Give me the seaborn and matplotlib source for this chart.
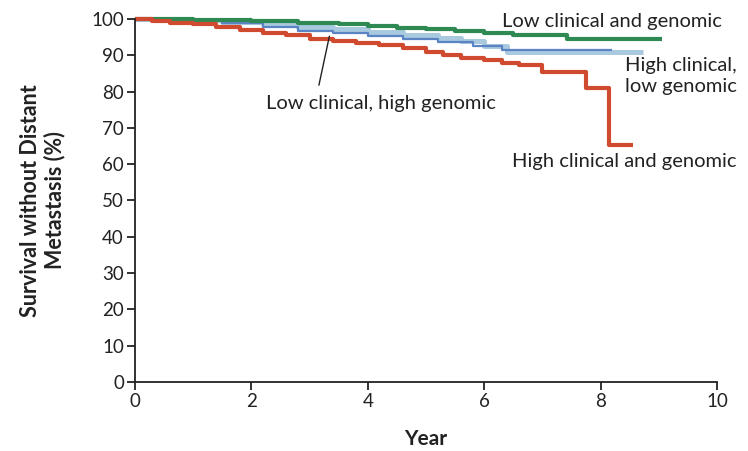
import matplotlib
matplotlib.use("Agg")
import matplotlib.pyplot as plt
import pandas as pd
import seaborn as sns

# Kaplan-Meier style step curves (year, % survival without distant metastasis)
low_low_years = [0, 1.0, 2.0, 2.8, 3.5, 4.0, 4.5, 5.0, 5.5, 6.0, 6.5, 7.42, 9.05]
low_low_surv = [100, 99.8, 99.5, 99.0, 98.6, 98.1, 97.6, 97.1, 96.6, 96.0, 95.6, 94.6, 94.6]

high_low_years = [0, 0.8, 1.5, 2.2, 2.8, 3.4, 4.0, 4.6, 5.2, 5.6, 6.0, 6.4, 8.73]
high_low_surv = [100, 99.7, 99.2, 98.6, 97.8, 97.2, 96.4, 95.6, 94.8, 93.8, 92.6, 91.0, 91.0]

low_high_years = [0, 0.8, 1.5, 2.2, 2.8, 3.4, 4.0, 4.6, 5.2, 5.8, 6.3, 8.2]
low_high_surv = [100, 99.6, 98.8, 97.8, 96.8, 96.0, 95.2, 94.5, 93.7, 92.5, 91.5, 91.5]

high_high_years = [0, 0.3, 0.6, 1.0, 1.4, 1.8, 2.2, 2.6, 3.0, 3.4, 3.8, 4.2, 4.6,
                   5.0, 5.3, 5.6, 6.0, 6.3, 6.6, 7.0, 7.75, 8.15, 8.55]
high_high_surv = [100, 99.5, 99.0, 98.5, 97.8, 97.0, 96.2, 95.5, 94.6, 94.0, 93.3, 92.8, 92.0,
                  91.0, 90.0, 89.3, 88.8, 88.0, 87.2, 85.5, 81.0, 65.3, 65.3]

x_ticks = [0, 2, 4, 6, 8, 10]
y_ticks = list(range(0, 101, 10))

groups = {
    "High clinical, low genomic": (high_low_years, high_low_surv),
    "Low clinical, high genomic": (low_high_years, low_high_surv),
    "Low clinical and genomic": (low_low_years, low_low_surv),
    "High clinical and genomic": (high_high_years, high_high_surv),
}
frame = pd.concat(
    [pd.DataFrame({"Year": yrs, "Survival": sv, "Group": name})
     for name, (yrs, sv) in groups.items()],
    ignore_index=True,
)

palette = {
    "High clinical, low genomic": "#a9c9de",
    "Low clinical, high genomic": "#5b84c4",
    "Low clinical and genomic": "#2e8a52",
    "High clinical and genomic": "#d04a30",
}
widths = {
    "High clinical, low genomic": 3.6,
    "Low clinical, high genomic": 1.6,
    "Low clinical and genomic": 3.0,
    "High clinical and genomic": 3.0,
}

sns.set_theme(style="ticks")
plt.rcParams["font.family"] = ["Lato", "DejaVu Sans"]

fig = plt.figure(figsize=(7.48, 4.51), dpi=100)
ax = fig.add_axes([0.1805, 0.153, 0.778, 0.805])

for name in groups:
    sns.lineplot(data=frame[frame["Group"] == name], x="Year", y="Survival",
                 color=palette[name], linewidth=widths[name],
                 drawstyle="steps-post", ax=ax, clip_on=False,
                 solid_capstyle="butt")

ax.set_xlim(0, 10)
ax.set_ylim(0, 100)
ax.set_xticks(x_ticks)
ax.set_yticks(y_ticks)
sns.despine(ax=ax)
for side in ("left", "bottom"):
    ax.spines[side].set_linewidth(1.3)
    ax.spines[side].set_color("#222222")
ax.tick_params(axis="both", direction="out", length=6, width=1.3,
               labelsize=13.5, colors="#222222", pad=2)

ax.set_xlabel("Year", fontsize=15, fontweight="bold", color="#222222")
ax.xaxis.set_label_coords(0.5, -0.13)
ax.set_ylabel("Survival without Distant\nMetastasis (%)", fontsize=15.5,
              fontweight="bold", color="#222222", multialignment="center",
              va="center", linespacing=1.15)
ax.yaxis.set_label_coords(-0.158, 0.5)

txt = dict(fontsize=14.5, color="#222222")
ax.text(10.09, 99.2, "Low clinical and genomic", ha="right", va="center", **txt)
ax.text(10.34, 84.3, "High clinical,\nlow genomic", ha="right", va="center",
        linespacing=1.3, **txt)
ax.text(10.34, 60.6, "High clinical and genomic", ha="right", va="center", **txt)
ax.text(4.23, 76.6, "Low clinical, high genomic", ha="center", va="center", **txt)
ax.annotate("", xy=(3.35, 96.0), xytext=(3.15, 81.0),
            arrowprops=dict(arrowstyle="-", color="#222222", lw=1.0))

fig.savefig("out.png", dpi=100)
